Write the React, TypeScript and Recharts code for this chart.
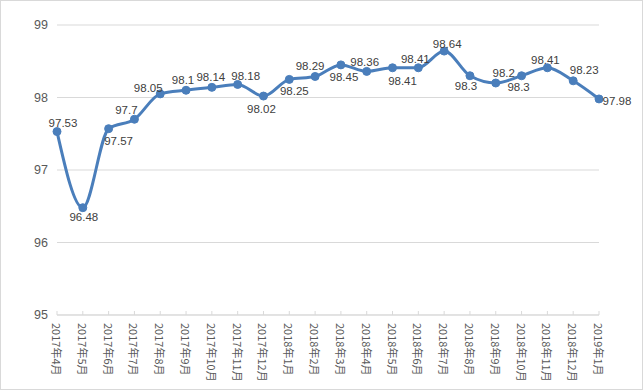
import { LineChart, Line, XAxis, YAxis, CartesianGrid, LabelList } from 'recharts'

const months = [
  '2017年4月', '2017年5月', '2017年6月', '2017年7月', '2017年8月', '2017年9月',
  '2017年10月', '2017年11月', '2017年12月', '2018年1月', '2018年2月', '2018年3月',
  '2018年4月', '2018年5月', '2018年6月', '2018年7月', '2018年8月', '2018年9月',
  '2018年10月', '2018年11月', '2018年12月', '2019年1月',
]

const values = [
  97.53, 96.48, 97.57, 97.7, 98.05, 98.1, 98.14, 98.18, 98.02, 98.25, 98.29,
  98.45, 98.36, 98.41, 98.41, 98.64, 98.3, 98.2, 98.3, 98.41, 98.23, 97.98,
]

const yTicks = [95, 96, 97, 98, 99]

// label offset from each point (label layout, not data)
const labelDx = [6, 1, 10, -8, -12, -3, -1, 8, -2, 5, -5, 3, -2, 10, -3, 3, -4, 8, -3, -2, 11, 18]
const labelDy = [-9, 9, 12, -9, -6, -10, -10, -8, 13, 12, -10, 12, -9, 13, -9, -7, 10, -10, 11, -8, -11, 2]

const data = months.map((m, i) => ({ month: m, value: values[i] }))

const CJK_FONT = '"Noto Sans CJK SC", "Noto Sans", sans-serif'
const NUM_FONT = '"Liberation Sans Narrow", "Liberation Sans", "Noto Sans", sans-serif'

const MonthTick = (props: any) => {
  const { x, y, payload } = props
  return (
    <g>
      <line x1={x} x2={x} y1={y - 4} y2={y} stroke="#d9d9d9" />
      <text
        transform={`translate(${x},${y + 8}) rotate(90)`}
        textAnchor="start"
        dominantBaseline="central"
        fill="#595959"
        fontSize={11}
        fontFamily={CJK_FONT}
      >
        {payload.value}
      </text>
    </g>
  )
}

const PointLabel = (props: any) => {
  const { x, y, value, index } = props
  return (
    <text
      x={x + labelDx[index]}
      y={y + labelDy[index]}
      textAnchor="middle"
      dominantBaseline="central"
      fill="#404040"
      fontSize={11.5}
      fontFamily={NUM_FONT}
    >
      {value}
    </text>
  )
}

export default function App() {
  return (
    <div
      style={{
        position: 'absolute',
        left: 0,
        top: 0,
        width: 643,
        height: 390,
        border: '1px solid #d9d9d9',
        boxSizing: 'border-box',
        background: '#fff',
      }}
    >
      <LineChart
        width={641}
        height={388}
        data={data}
        margin={{ top: 24, right: 43, left: -1, bottom: 0 }}
      >
        <CartesianGrid vertical={false} stroke="#d9d9d9" />
        <XAxis
          dataKey="month"
          interval={0}
          height={74}
          tickSize={0}
          tickMargin={0}
          axisLine={{ stroke: '#d9d9d9' }}
          tickLine={false}
          tick={<MonthTick />}
        />
        <YAxis
          domain={[95, 99]}
          ticks={yTicks}
          width={57}
          axisLine={false}
          tickLine={false}
          tickMargin={3}
          tick={{ fill: '#595959', fontSize: 12.5, fontFamily: NUM_FONT }}
        />
        <Line
          type="monotone"
          dataKey="value"
          stroke="#4A7EBB"
          strokeWidth={3}
          dot={{ r: 4, fill: '#4A7EBB', stroke: '#4A7EBB', strokeWidth: 1 }}
          isAnimationActive={false}
        >
          <LabelList dataKey="value" content={<PointLabel />} />
        </Line>
      </LineChart>
    </div>
  )
}
